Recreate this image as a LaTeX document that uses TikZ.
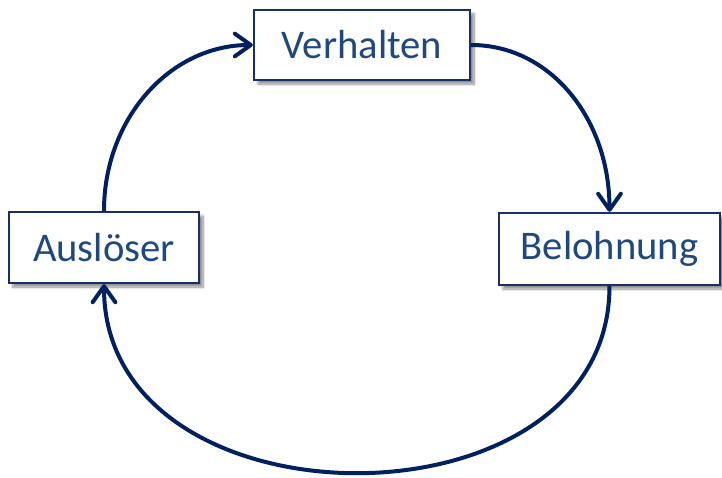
\documentclass[tikz,border=0pt]{standalone}
\usepackage{fontspec}
\setmainfont{Carlito}
\usetikzlibrary{arrows.meta,shadows.blur,positioning}
\definecolor{boxblue}{RGB}{24,48,100}
\definecolor{textblue}{RGB}{31,73,125}
\definecolor{arrowblue}{RGB}{0,32,96}
\tikzset{every picture/.style={line width=0.75pt}}
\tikzset{
  stagebox/.style={draw=boxblue, line width=1.8pt, fill=white, text=textblue,
    font=\fontsize{30.5}{36}\selectfont, inner sep=0pt,
    blur shadow={shadow xshift=3pt, shadow yshift=-3pt, shadow blur steps=8, shadow opacity=45}},
  cycleline/.style={draw=arrowblue, line width=3pt, -{Straight Barb[length=12pt,width=17pt,round]}}
}

\begin{document}
\begin{tikzpicture}[x=0.75pt,y=0.75pt,yscale=-1,xscale=1]
	\useasboundingbox (0,0) rectangle (722,478);

	% Text Node
	\node [stagebox, minimum width=162pt, minimum height=52.5pt] (verhalten) at (362,45) {Verhalten};
	% Text Node
	\node [stagebox, minimum width=142.5pt, minimum height=53.25pt] (ausloeser) at (104,247.5) {Auslöser};
	% Text Node
	\node [stagebox, minimum width=165.75pt, minimum height=54pt] (belohnung) at (609.5,249) {Belohnung};

	%Curve Lines
	\draw [cycleline] (ausloeser.north) .. controls +(0,-92) and +(-83,0) .. (verhalten.west);
	%Curve Lines
	\draw [cycleline] (verhalten.east) .. controls +(79,0) and +(0,-93) .. (belohnung.north);
	%Curve Lines
	\draw [cycleline] (belohnung.south) .. controls +(0,250) and +(0,250) .. (ausloeser.south);

\end{tikzpicture}
\end{document}
